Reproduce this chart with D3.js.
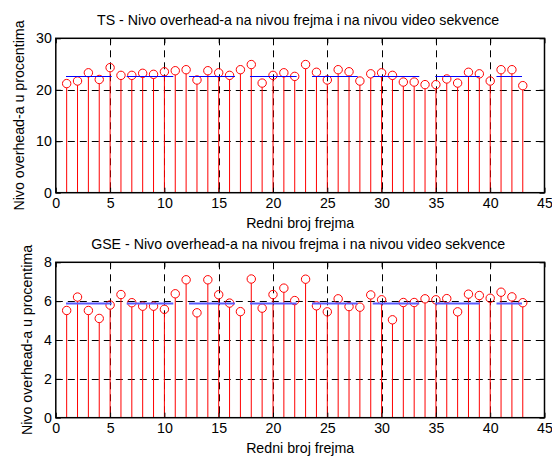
<!DOCTYPE html>
<html><head><meta charset="utf-8">
<script src="https://cdn.jsdelivr.net/npm/d3@7"></script>
<style>
html,body{margin:0;padding:0;background:#fff;}
svg{display:block;}
text{font-family:"Liberation Sans",Arial,sans-serif;fill:#000;}
</style></head>
<body>
<svg id="chart" width="552" height="456"></svg>
<script>
const frames = [1,2,3,4,5,6,7,8,9,10,11,12,13,14,15,16,17,18,19,20,21,22,23,24,25,26,27,28,29,30,31,32,33,34,35,36,37,38,39,40,41,42,43];
const tsValues = [21.2,21.7,23.3,22.0,24.3,22.8,22.8,23.2,23.0,23.5,23.7,23.9,21.9,23.7,23.3,22.8,23.9,24.9,21.3,22.8,23.3,22.6,24.9,23.4,21.9,23.9,23.5,21.7,23.1,23.3,22.8,21.5,21.5,21.0,21.0,22.1,21.3,23.4,23.1,21.7,23.9,23.9,20.8];
const gseValues = [5.52,6.21,5.52,5.11,5.80,6.34,5.92,5.74,5.74,5.58,6.38,7.10,5.40,7.10,6.33,5.90,5.46,7.14,5.64,6.34,6.67,6.03,7.13,5.76,5.45,6.12,5.72,5.69,6.32,6.07,5.04,5.93,5.93,6.12,6.07,6.13,5.45,6.36,6.29,6.15,6.46,6.22,5.92];
const segStart = [0.94,6.53,12.27,17.88,23.59,29.18,34.94,40.58];
const segEnd   = [5.15,10.82,16.5,22.18,27.8,33.47,39.04,42.93];
const tsMeans  = [22.6,22.6,22.6,22.6,22.6,22.6,22.6,22.6];
const gseMeans = [5.93,5.93,5.93,5.93,5.93,5.93,5.93,5.93];
const xTicks = [0,5,10,15,20,25,30,35,40,45];
const tsTicks = [0,10,20,30];
const gseTicks = [0,2,4,6,8];
const titles = ["TS - Nivo overhead-a na nivou frejma i na nivou video sekvence",
                "GSE - Nivo overhead-a na nivou frejma i na nivou video sekvence"];
const xLabel = "Redni broj frejma";
const yLabel = "Nivo overhead-a u procentima";

const svg = d3.select("#chart");
const L = 55.8, R = 544.5;
const FS = "14.2px";
const x = d3.scaleLinear().domain([0,45]).range([L,R]);

function panel(cfg){
  const y = d3.scaleLinear().domain(cfg.domain).range([cfg.bottom,cfg.top]);
  const g = svg.append("g");
  const dash = "7,5";
  g.append("g").selectAll("line").data(xTicks.slice(1,-1)).join("line")
    .attr("x1",d=>Math.round(x(d))+0.5).attr("x2",d=>Math.round(x(d))+0.5)
    .attr("y1",cfg.top).attr("y2",cfg.bottom)
    .attr("stroke","#000").attr("stroke-width",1).attr("stroke-dasharray",dash);
  g.append("g").selectAll("line").data(cfg.ticks.slice(1,-1)).join("line")
    .attr("x1",L).attr("x2",R)
    .attr("y1",d=>Math.round(y(d))+0.5).attr("y2",d=>Math.round(y(d))+0.5)
    .attr("stroke","#000").attr("stroke-width",1).attr("stroke-dasharray",dash);
  const r = 4.2;
  g.append("g").selectAll("line").data(frames).join("line")
    .attr("x1",(d)=>x(d)).attr("x2",(d)=>x(d))
    .attr("y1",y(0)).attr("y2",(d,i)=>y(cfg.values[i])+r)
    .attr("stroke","#ff0000").attr("stroke-width",1);
  g.append("g").selectAll("circle").data(frames).join("circle")
    .attr("cx",d=>x(d)).attr("cy",(d,i)=>y(cfg.values[i])).attr("r",r)
    .attr("fill","none").attr("stroke","#ff0000").attr("stroke-width",1);
  g.append("g").selectAll("line").data(segStart).join("line")
    .attr("x1",(d)=>x(d)).attr("x2",(d,i)=>x(segEnd[i]))
    .attr("y1",(d,i)=>Math.round(y(cfg.means[i]))+0.5).attr("y2",(d,i)=>Math.round(y(cfg.means[i]))+0.5)
    .attr("stroke",cfg.meanColor).attr("stroke-width",cfg.meanWidth);
  const tl = 5;
  const ax = d3.axisBottom(x).tickValues(xTicks).tickSize(-tl).tickPadding(5).tickFormat(d3.format("d"));
  const axT = d3.axisTop(x).tickValues(xTicks).tickSize(-tl).tickFormat("");
  const ay = d3.axisLeft(y).tickValues(cfg.ticks).tickSize(-tl).tickPadding(4).tickFormat(d3.format("d"));
  const ayR = d3.axisRight(y).tickValues(cfg.ticks).tickSize(-tl).tickFormat("");
  const gx = g.append("g").attr("transform",`translate(0,${cfg.bottom})`).call(ax);
  const gxt = g.append("g").attr("transform",`translate(0,${cfg.top})`).call(axT);
  const gy = g.append("g").attr("transform",`translate(${L},0)`).call(ay);
  const gyr = g.append("g").attr("transform",`translate(${R},0)`).call(ayR);
  [gx,gxt,gy,gyr].forEach(a=>{
    a.select(".domain").remove();
    a.selectAll("line").attr("stroke","#000");
    a.selectAll("text").style("font-family","'Liberation Sans',Arial,sans-serif").style("font-size",FS).attr("fill","#000");
  });
  g.append("rect").attr("x",L).attr("y",cfg.top).attr("width",R-L).attr("height",cfg.bottom-cfg.top)
    .attr("fill","none").attr("stroke","#000").attr("stroke-width",1.5);
  g.append("text").attr("x",(L+R)/2 - 2).attr("y",cfg.top-13).attr("text-anchor","middle")
    .style("font-size",FS).text(cfg.title);
  g.append("text").attr("x",(L+R)/2).attr("y",cfg.bottom+35).attr("text-anchor","middle")
    .style("font-size",FS).text(xLabel);
  g.append("text").attr("transform",`translate(${cfg.ylx},${(cfg.top+cfg.bottom)/2}) rotate(-90)`)
    .attr("text-anchor","middle").style("font-size",FS).text(yLabel);
}

panel({domain:[0,30],top:38.3,bottom:192.7,ticks:tsTicks,values:tsValues,means:tsMeans,title:titles[0],ylx:24,meanColor:"#0000ff",meanWidth:1});
panel({domain:[0,8],top:262.3,bottom:417.7,ticks:gseTicks,values:gseValues,means:gseMeans,title:titles[1],ylx:32,meanColor:"#5a5aff",meanWidth:2});
</script>
</body></html>
